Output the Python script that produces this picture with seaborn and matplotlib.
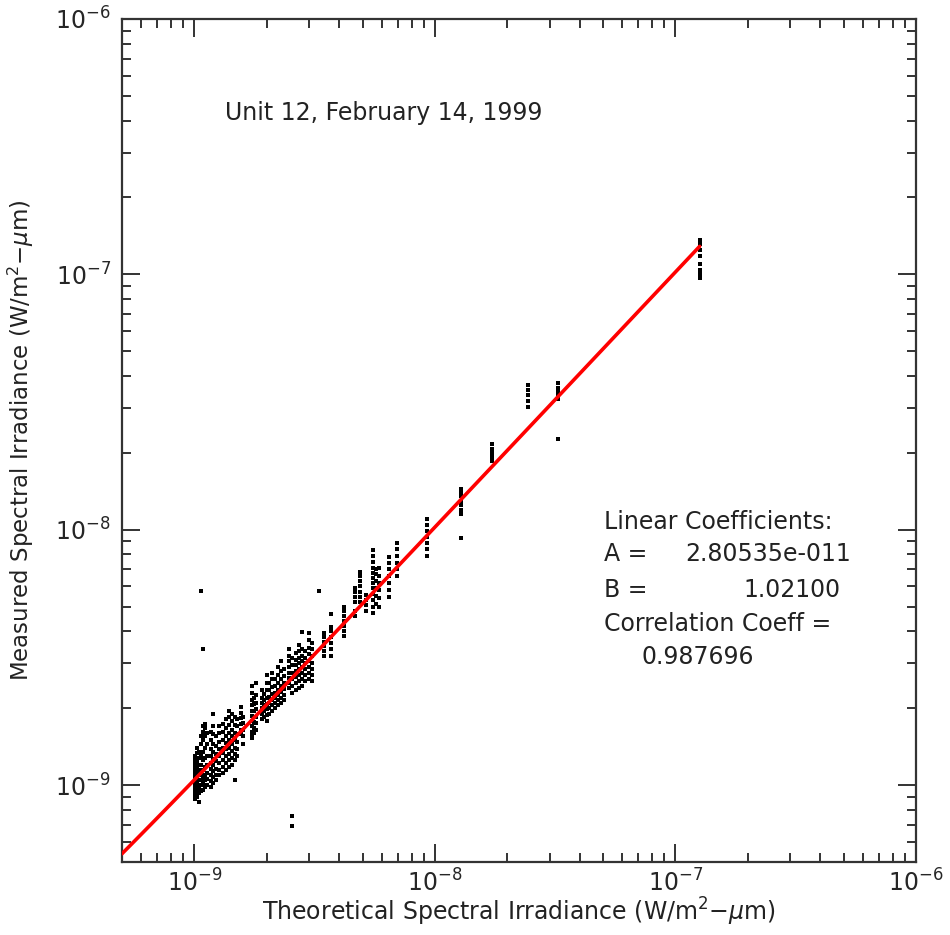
import numpy as np
import pandas as pd
import matplotlib
matplotlib.use("Agg")
import matplotlib.pyplot as plt
import seaborn as sns

# ---- data (values in units of 1e-9 W/m^2-um) ----
NANO = 1e-9
theory_x = [1.01, 1.03, 1.05, 1.07, 1.09, 1.11, 1.13, 1.17, 1.20, 1.235,
            1.27, 1.31, 1.35, 1.39, 1.43, 1.47, 1.51, 1.556, 1.60,
            1.73, 1.77, 1.80, 1.905, 1.94, 2.00, 2.05, 2.10, 2.16, 2.22, 2.29, 2.35,
            2.47, 2.54, 2.64, 2.72, 2.80, 2.88, 2.99, 3.08,
            3.46, 3.70, 4.19, 4.66, 4.89, 5.18, 5.54, 5.70, 5.86, 6.46, 6.97,
            9.30, 12.78, 17.2, 24.3, 32.5, 126.0]
measured = [
    [0.88, 0.90, 0.92, 0.95, 0.98, 1.01, 1.04, 1.07, 1.10, 1.14, 1.18, 1.22, 1.26, 1.30],
    [0.90, 0.94, 0.99, 1.03, 1.08, 1.12, 1.17, 1.21, 1.25, 1.33, 1.40],
    [0.86, 0.93, 0.97, 1.00, 1.05, 1.10, 1.15, 1.20, 1.28, 1.35],
    [0.95, 1.00, 1.05, 1.12, 1.20, 1.30, 1.45, 1.55],
    [0.96, 1.02, 1.08, 1.15, 1.25, 1.35, 1.50, 1.62, 1.70],
    [0.98, 1.05, 1.10, 1.18, 1.28, 1.40, 1.55, 1.68, 1.74],
    [1.00, 1.06, 1.12, 1.20, 1.30, 1.45, 1.60],
    [0.98, 1.04, 1.10, 1.16, 1.22, 1.30, 1.38, 1.50, 1.62],
    [1.02, 1.08, 1.14, 1.20, 1.27, 1.35, 1.45, 1.58, 1.70, 1.895],
    [1.05, 1.10, 1.16, 1.24, 1.32, 1.42, 1.55],
    [1.10, 1.15, 1.22, 1.30, 1.38, 1.48, 1.60, 1.70],
    [1.12, 1.18, 1.25, 1.33, 1.40, 1.50, 1.62, 1.74],
    [1.15, 1.22, 1.30, 1.38, 1.46, 1.56, 1.68, 1.82],
    [1.18, 1.25, 1.32, 1.40, 1.50, 1.60, 1.72, 1.85, 1.95],
    [1.20, 1.28, 1.36, 1.45, 1.55, 1.65, 1.78, 1.90],
    [1.045, 1.25, 1.32, 1.40, 1.50, 1.60, 1.72, 1.85],
    [1.30, 1.38, 1.48, 1.58, 1.70, 1.82],
    [1.58, 1.65, 1.74, 1.83, 1.92, 2.02],
    [1.45, 1.55, 1.65, 1.75, 1.85],
    [1.53, 1.55, 1.62, 1.70, 1.78, 1.86, 1.95, 2.05, 2.15, 2.30, 2.45],
    [1.60, 1.68, 1.76, 1.85, 1.95, 2.08, 2.20],
    [1.65, 1.75, 1.85, 1.98, 2.10, 2.25, 2.50],
    [1.82, 1.90, 2.00, 2.10, 2.20, 2.35],
    [1.85, 1.95, 2.05, 2.15, 2.28],
    [1.78, 1.88, 1.98, 2.08, 2.20, 2.35, 2.50, 2.70],
    [1.90, 2.00, 2.10, 2.22, 2.36, 2.50],
    [1.95, 2.05, 2.15, 2.28, 2.42, 2.60, 2.75],
    [2.00, 2.10, 2.20, 2.30, 2.45, 2.60],
    [2.05, 2.15, 2.25, 2.35, 2.50, 2.70, 2.90],
    [2.10, 2.20, 2.32, 2.45, 2.60, 2.80, 3.05],
    [2.15, 2.25, 2.38, 2.52, 2.68, 2.85],
    [2.40, 2.50, 2.62, 2.75, 2.90, 3.05, 3.20, 3.40],
    [2.30, 2.45, 2.60, 2.75, 2.95, 3.15, 0.756, 0.691],
    [2.35, 2.50, 2.65, 2.80, 2.95, 3.10, 3.30],
    [2.40, 2.55, 2.70, 2.85, 3.00, 3.15, 3.35, 3.55],
    [2.45, 2.60, 2.75, 2.90, 3.05, 3.20, 3.40, 3.97],
    [2.55, 2.70, 2.85, 3.00, 3.15, 3.35],
    [2.60, 2.75, 2.90, 3.05, 3.25, 3.45, 3.70, 3.95],
    [2.55, 2.70, 2.85, 3.00, 3.20, 3.40, 3.60],
    [3.20, 3.35, 3.50, 3.65, 3.80, 3.95],
    [3.20, 3.40, 3.60, 3.80, 4.00, 4.15, 4.66],
    [3.85, 4.00, 4.20, 4.40, 4.60, 4.80, 5.00],
    [4.60, 4.80, 5.20, 5.45, 5.70, 5.90],
    [5.20, 5.45, 5.70, 6.00, 6.30, 6.60, 6.85],
    [4.80, 5.05, 5.30, 5.55],
    [4.70, 5.00, 5.30, 5.60, 5.90, 6.20, 6.50, 6.80, 7.10, 7.50, 7.90, 8.35],
    [5.10, 5.50, 5.90, 6.30, 6.70, 7.00],
    [5.00, 5.40, 5.80, 6.20, 6.60, 7.10],
    [5.45, 5.80, 6.20, 6.60, 7.00, 7.40, 7.80],
    [6.60, 7.00, 7.40, 7.90, 8.40, 8.85],
    [7.90, 8.40, 8.90, 9.40, 9.90, 10.40, 11.00],
    [9.30, 11.50, 12.00, 12.50, 13.00, 13.50, 14.00, 14.50],
    [18.50, 19.20, 20.00, 20.80, 21.60],
    [30.30, 32.00, 33.60, 35.20, 37.00],
    [22.70, 32.50, 33.50, 34.50, 36.00, 37.50],
    [97.0, 100.0, 104.0, 110.0, 118.0, 125.0, 131.0, 136.0],
]
outlier_x = [1.07, 1.09, 3.29]
outlier_y = [5.74, 3.40, 5.74]

fit_A = 2.80535e-11
fit_B = 1.02100
corr = 0.987696
title_text = "Unit 12, February 14, 1999"

# ---- build table ----
xs, ys = [], []
for xv, col in zip(theory_x, measured):
    for yv in col:
        xs.append(xv * NANO)
        ys.append(yv * NANO)
xs += [v * NANO for v in outlier_x]
ys += [v * NANO for v in outlier_y]
df = pd.DataFrame({"theory": xs, "measured": ys})

x_lo, x_hi = 5e-10, max(df["theory"])
line_x = np.geomspace(x_lo, x_hi, 60)
line_df = pd.DataFrame({"theory": line_x, "fit": fit_A + fit_B * line_x})

# ---- plot ----
sns.set_style("ticks")
plt.rcParams["font.family"] = ["DejaVu Sans"]
fig = plt.figure(figsize=(9.5, 9.35), dpi=100)
ax = fig.add_axes([0.1284, 0.0781, 0.9642 - 0.1284, 0.9797 - 0.0781])

sns.scatterplot(data=df, x="theory", y="measured", ax=ax, s=5, marker="s",
                color="black", linewidth=0, legend=False, zorder=2)
sns.lineplot(data=line_df, x="theory", y="fit", ax=ax, color="red",
             linewidth=2.6, legend=False, zorder=3, estimator=None, sort=False)

ax.set_xscale("log")
ax.set_yscale("log")
ax.set_xlim(5e-10, 1e-6)
ax.set_ylim(5e-10, 1e-6)

for s in ax.spines.values():
    s.set_visible(True)
    s.set_linewidth(1.6)
    s.set_color("#333333")
ax.tick_params(which="both", direction="in", top=True, right=True,
               color="#333333", width=1.4)
ax.tick_params(which="major", length=13, labelsize=17)
ax.tick_params(which="minor", length=6.5)
ax.xaxis.set_tick_params(pad=5)
ax.yaxis.set_tick_params(pad=8)

ax.set_xlabel(r"Theoretical Spectral Irradiance (W/m$^{2}$$-\mu$m)",
              fontsize=17, labelpad=0, color="#222222")
ax.set_ylabel(r"Measured Spectral Irradiance (W/m$^{2}$$-\mu$m)",
              fontsize=16.5, labelpad=14, color="#222222")

tk = dict(transform=ax.transAxes, fontsize=17, color="#222222")
ax.text(0.13, 0.888, title_text, va="center", ha="left", **tk)
ax.text(0.607, 0.403, "Linear Coefficients:", va="center", ha="left", **tk)
ax.text(0.607, 0.365, "A =", va="center", ha="left", **tk)
ax.text(0.918, 0.365, "2.80535e-011", va="center", ha="right", **tk)
ax.text(0.607, 0.323, "B =", va="center", ha="left", **tk)
ax.text(0.905, 0.323, f"{fit_B:.5f}", va="center", ha="right", **tk)
ax.text(0.607, 0.282, "Correlation Coeff =", va="center", ha="left", **tk)
ax.text(0.725, 0.243, f"{corr:.6f}", va="center", ha="center", **tk)

fig.savefig("out.png", dpi=100, facecolor="white")
